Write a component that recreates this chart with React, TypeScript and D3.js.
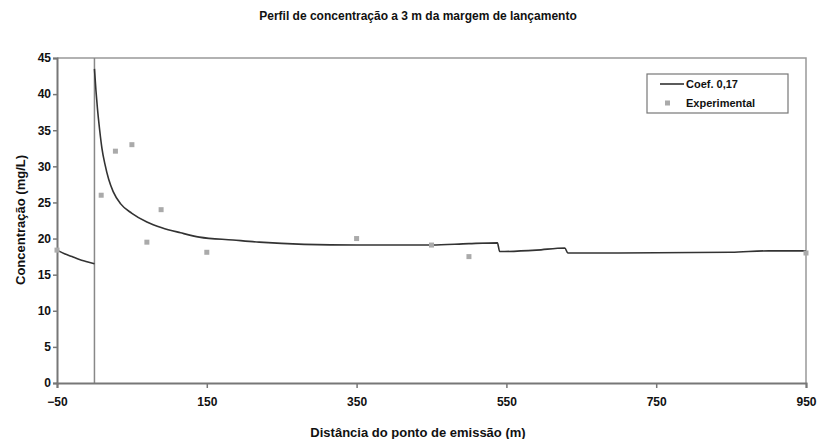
import { useEffect, useRef } from "react";
import * as d3 from "d3";

// model curve upstream of the emission point
const upX = [-50, -40, -30, -20, -10, 0];
const upY = [18.4, 17.9, 17.5, 17.1, 16.8, 16.5];

// model curve downstream (Coef. 0,17)
const downX = [0, 2, 4, 7, 10, 14, 19, 25, 35, 50, 70, 90, 115, 140, 185, 220, 280, 350, 450, 500, 538, 541, 590, 628, 632, 700, 850, 900, 950];
const downY = [43.5, 40.5, 38, 35, 32.5, 30.3, 28.2, 26.5, 24.8, 23.5, 22.3, 21.5, 20.8, 20.2, 19.8, 19.5, 19.2, 19.1, 19.1, 19.3, 19.4, 18.2, 18.4, 18.7, 18.0, 18.0, 18.1, 18.3, 18.3];

// experimental measurements
const expX = [-50, 9, 28, 50, 70, 89, 150, 350, 450, 500, 950];
const expY = [18.4, 26, 32.1, 33, 19.5, 24, 18.1, 20, 19.1, 17.5, 18];

const xTicks = [-50, 150, 350, 550, 750, 950];
const yTicks = [0, 5, 10, 15, 20, 25, 30, 35, 40, 45];

const FONT = "'Liberation Sans', Arial, sans-serif";

export default function App() {
    const svgRef = useRef<SVGSVGElement>(null);

    useEffect(() => {
        const svg = d3.select(svgRef.current);
        svg.selectAll("*").remove();

        const left = 57, right = 806, top = 58, bottom = 383;

        const x = d3.scaleLinear().domain([-50, 950]).range([left, right]);
        const y = d3.scaleLinear().domain([0, 45]).range([bottom, top]);

        // title
        svg.append("text")
            .attr("x", 418).attr("y", 20)
            .attr("text-anchor", "middle")
            .attr("font-family", FONT).attr("font-weight", "bold").attr("font-size", 12)
            .attr("fill", "#111")
            .text("Perfil de concentração a 3 m da margem de lançamento");

        // plot frame (top and right)
        svg.append("path")
            .attr("d", `M${left},${top}H${right}V${bottom}`)
            .attr("fill", "none").attr("stroke", "#999").attr("stroke-width", 1.5);

        // vertical line at emission point
        svg.append("line")
            .attr("x1", x(0)).attr("x2", x(0))
            .attr("y1", y(0)).attr("y2", y(45))
            .attr("stroke", "#888").attr("stroke-width", 1.5);

        // axes
        const yAxis = d3.axisLeft(y).tickValues(yTicks).tickSize(4).tickPadding(2).tickFormat(d3.format("d"));
        const gy = svg.append("g").attr("transform", `translate(${left},0)`).call(yAxis);
        const xAxis = d3.axisBottom(x).tickValues(xTicks).tickSize(5).tickPadding(9).tickFormat(d3.format("d"));
        const gx = svg.append("g").attr("transform", `translate(0,${bottom})`).call(xAxis);

        [gx, gy].forEach(g => {
            g.select(".domain").attr("stroke", "#777").attr("stroke-width", 2);
            g.selectAll(".tick line").attr("stroke", "#777").attr("stroke-width", 1.5);
            g.selectAll(".tick text")
                .attr("font-family", FONT).attr("font-weight", "bold").attr("font-size", 12)
                .attr("fill", "#111");
        });

        // axis titles
        svg.append("text")
            .attr("x", 418).attr("y", 437)
            .attr("text-anchor", "middle")
            .attr("font-family", FONT).attr("font-weight", "bold").attr("font-size", 13)
            .attr("fill", "#111")
            .text("Distância do ponto de emissão (m)");

        svg.append("text")
            .attr("transform", "translate(25,220) rotate(-90)")
            .attr("text-anchor", "middle")
            .attr("font-family", FONT).attr("font-weight", "bold").attr("font-size", 13)
            .attr("fill", "#111")
            .text("Concentração (mg/L)");

        // model lines
        const line = d3.line<[number, number]>()
            .x(d => x(d[0]))
            .y(d => y(d[1]))
            .curve(d3.curveMonotoneX);

        const upData = upX.map((v, i) => [v, upY[i]] as [number, number]);
        const downData = downX.map((v, i) => [v, downY[i]] as [number, number]);

        [upData, downData].forEach(data => {
            svg.append("path")
                .datum(data)
                .attr("fill", "none")
                .attr("stroke", "#333")
                .attr("stroke-width", 1.6)
                .attr("d", line);
        });

        // experimental points
        svg.selectAll("rect.exp")
            .data(expX.map((v, i) => [v, expY[i]]))
            .enter().append("rect")
            .attr("class", "exp")
            .attr("x", d => x(d[0]) - 2.5)
            .attr("y", d => y(d[1]) - 2.5)
            .attr("width", 5).attr("height", 5)
            .attr("fill", "#aaa");

        // legend
        const lg = svg.append("g").attr("transform", "translate(647,74)");
        lg.append("rect")
            .attr("width", 141).attr("height", 39)
            .attr("fill", "white").attr("stroke", "#777").attr("stroke-width", 1.2);
        lg.append("line")
            .attr("x1", 13).attr("x2", 37).attr("y1", 10).attr("y2", 10)
            .attr("stroke", "#333").attr("stroke-width", 1.6);
        lg.append("rect")
            .attr("x", 18).attr("y", 26.5).attr("width", 5).attr("height", 5)
            .attr("fill", "#aaa");
        [["Coef. 0,17", 14], ["Experimental", 33]].forEach(([t, ty]) => {
            lg.append("text")
                .attr("x", 39).attr("y", ty as number)
                .attr("font-family", FONT).attr("font-weight", "bold").attr("font-size", 11)
                .attr("fill", "#111")
                .text(t as string);
        });
    }, []);

    return (
        <svg ref={svgRef} width={830} height={439}
            style={{ position: "absolute", left: 0, top: 0, background: "white" }} />
    );
}
